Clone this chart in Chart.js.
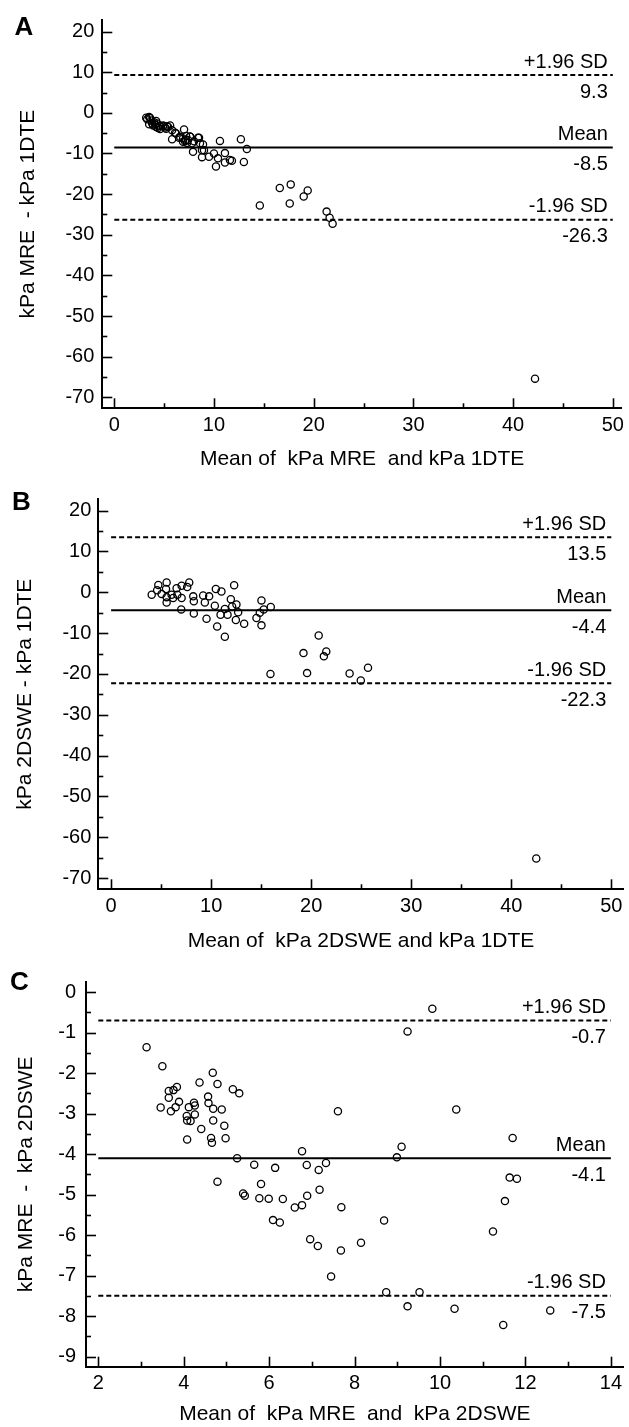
<!DOCTYPE html>
<html lang="en">
<head>
<meta charset="UTF-8">
<meta name="viewport" content="width=device-width, initial-scale=1.0">
<title>Bland-Altman agreement plots</title>
<script src="https://cdn.jsdelivr.net/npm/chart.js"></script>
<style>
    html, body { margin: 0; padding: 0; background: #fff; overflow: hidden; }
    .panel { position: absolute; left: 0; }
</style>
</head>
<body>
    <canvas id="chartA" class="panel" width="629" height="480" style="top:0"></canvas>
    <canvas id="chartB" class="panel" width="629" height="480" style="top:480px"></canvas>
    <canvas id="chartC" class="panel" width="629" height="467" style="top:960px"></canvas>

<script>
// A: MRE vs 1DTE  (x = mean of the two, y = difference)
const pointsA = [
    [3.2,-1.2],[3.5,-1.0],[3.6,-1.3],[3.3,-1.6],[3.7,-1.9],[3.5,-2.8],[3.8,-2.6],[3.9,-3.1],[4.0,-2.3],
    [4.1,-2.9],[4.2,-2.0],[4.3,-2.6],[4.2,-3.5],[4.4,-3.7],[4.5,-3.3],[4.6,-4.0],[4.6,-3.2],[4.9,-3.1],
    [4.9,-3.3],[5.1,-3.6],[5.2,-3.9],[5.3,-3.3],[5.4,-3.5],[5.6,-3.1],[5.8,-4.3],[5.8,-6.5],[6.1,-4.9],
    [6.2,-5.1],[6.5,-6.1],[6.6,-5.9],[6.9,-6.3],[7.0,-4.1],[6.9,-7.1],[7.1,-7.0],[7.2,-5.7],[7.2,-6.7],
    [7.4,-6.7],[7.3,-7.4],[7.6,-5.8],[7.6,-5.9],[7.8,-7.5],[8.0,-7.0],[7.9,-9.6],[8.4,-6.1],[8.5,-6.1],
    [8.6,-7.5],[8.9,-7.8],[8.8,-9.2],[9.0,-9.2],[8.8,-10.9],[9.5,-10.8],[10.0,-10.0],[10.4,-11.2],
    [10.2,-13.2],[11.1,-9.9],[11.1,-12.2],[11.6,-11.6],[11.8,-11.8],[10.6,-6.9],[12.7,-6.5],[13.3,-8.9],
    [13.0,-12.1],[14.6,-22.8],[16.6,-18.5],[17.7,-17.6],[17.6,-22.3],[19.4,-19.1],[19.0,-20.6],
    [21.3,-24.3],[21.6,-25.8],[21.9,-27.3],[42.2,-65.4]
];
const limitsA = [9.3, -8.5, -26.3];          // +1.96 SD, mean, -1.96 SD
const xTicksA = [0, 10, 20, 30, 40, 50];
const yTicksA = [20, 10, 0, -10, -20, -30, -40, -50, -60, -70];

// B: 2DSWE vs 1DTE
const pointsB = [
    [4.06,-0.6],[4.6,0.5],[4.72,1.8],[5.05,-0.4],[5.49,0.8],[5.55,2.4],[5.55,-1.2],[5.55,-2.5],
    [6.05,-0.6],[6.2,-1.4],[6.55,1.0],[6.62,-0.6],[7.05,1.6],[7.05,-1.4],[7.01,-4.2],[7.61,1.3],
    [7.81,2.4],[8.21,-1.0],[8.27,-2.2],[8.27,-5.2],[9.2,-0.8],[9.37,-2.5],[9.8,-1.0],[9.54,-6.5],
    [10.47,0.8],[10.37,-3.3],[11.03,0.2],[10.6,-8.4],[10.94,-5.5],[11.37,-4.1],[11.64,-5.5],
    [11.37,-10.9],[11.97,-1.7],[12.3,1.7],[12.1,-3.5],[12.53,-3.0],[12.47,-6.8],[12.7,-4.9],
    [13.3,-7.7],[14.53,-6.3],[14.86,-5.0],[15.03,-2.0],[15.03,-8.1],[15.26,-4.2],[15.96,-3.6],
    [15.93,-20.0],[19.23,-14.9],[19.59,-19.8],[20.75,-10.6],[21.27,-15.7],[21.51,-14.5],
    [23.84,-19.9],[24.96,-21.6],[25.68,-18.5],[42.5,-65.2]
];
const limitsB = [13.5, -4.4, -22.3];
const xTicksB = [0, 10, 20, 30, 40, 50];
const yTicksB = [20, 10, 0, -10, -20, -30, -40, -50, -60, -70];

// C: MRE vs 2DSWE
const pointsC = [
    [3.13,-1.36],[3.50,-1.83],[3.65,-2.44],[3.76,-2.42],[3.84,-2.34],[3.65,-2.61],[3.46,-2.85],
    [3.70,-2.94],[3.81,-2.84],[3.89,-2.71],[4.12,-2.84],[4.24,-2.73],[4.26,-2.80],[4.07,-3.06],
    [4.08,-3.17],[4.16,-3.18],[4.26,-3.02],[4.08,-3.64],[4.41,-3.38],[4.37,-2.23],[4.68,-1.99],
    [4.79,-2.27],[4.57,-2.58],[4.58,-2.74],[4.69,-2.88],[4.89,-2.90],[4.69,-3.17],[4.95,-3.30],
    [4.64,-3.60],[4.66,-3.72],[4.98,-3.61],[5.15,-2.40],[5.30,-2.50],[4.79,-4.68],[5.25,-4.10],
    [5.65,-4.26],[6.14,-4.34],[5.81,-4.74],[5.39,-4.97],[5.43,-5.03],[5.77,-5.09],[5.99,-5.10],
    [6.32,-5.11],[6.09,-5.63],[6.25,-5.69],[6.60,-5.32],[6.77,-5.26],[6.89,-5.03],[6.77,-3.93],
    [6.88,-4.27],[7.16,-4.39],[7.33,-4.22],[7.18,-4.88],[7.61,-2.94],[7.69,-5.31],[6.96,-6.10],
    [7.14,-6.27],[7.68,-6.38],[7.45,-7.02],[8.15,-6.19],[8.69,-5.64],[8.99,-4.08],[9.10,-3.82],
    [9.24,-0.97],[9.82,-0.41],[10.38,-2.90],[11.24,-5.91],[11.52,-5.16],[11.63,-4.58],[11.80,-4.61],
    [11.70,-3.60],[8.74,-7.41],[9.52,-7.41],[9.24,-7.76],[10.34,-7.82],[11.48,-8.22],[12.58,-7.86]
];
const limitsC = [-0.7, -4.1, -7.5];
const xTicksC = [2, 4, 6, 8, 10, 12, 14];
const yTicksC = [0, -1, -2, -3, -4, -5, -6, -7, -8, -9];

const limitNames = ['+1.96 SD', 'Mean', '-1.96 SD'];
const FONT = '"Liberation Sans", Arial, sans-serif';

// inward tick marks, limit labels and the panel letter
const decor = {
    id: 'decor',
    afterDraw(chart, args, o) {
        const { ctx, scales: { x, y } } = chart;
        ctx.save();
        ctx.strokeStyle = '#000';
        ctx.lineWidth = 1.6;
        const isMajor = (v, m) => Math.abs(v / m - Math.round(v / m)) < 1e-6;

        const xb = y.bottom;
        for (let v = Math.ceil(x.min / o.xStep) * o.xStep; v <= x.max + 1e-9; v += o.xStep) {
            const px = Math.round(x.getPixelForValue(v)) + 0.5;
            const len = isMajor(v, o.xMajor) ? 10 : 5;
            ctx.beginPath();
            ctx.moveTo(px, xb);
            ctx.lineTo(px, xb - len);
            ctx.stroke();
        }
        const yb = x.left;
        for (let v = Math.ceil(y.min / o.yStep) * o.yStep; v <= y.max + 1e-9; v += o.yStep) {
            const py = Math.round(y.getPixelForValue(v)) + 0.5;
            const len = isMajor(v, o.yMajor) ? 10 : 5;
            ctx.beginPath();
            ctx.moveTo(yb, py);
            ctx.lineTo(yb + len, py);
            ctx.stroke();
        }

        ctx.fillStyle = '#000';
        ctx.font = '20px ' + FONT;
        ctx.textAlign = 'right';
        ctx.textBaseline = 'middle';
        const right = x.getPixelForValue(o.span[1]) - 5;
        o.limits.forEach((v, i) => {
            const py = y.getPixelForValue(v);
            ctx.fillText(limitNames[i], right, py - 13);
            ctx.fillText(v.toFixed(1), right, py + 17);
        });

        ctx.font = 'bold 26px ' + FONT;
        ctx.textAlign = 'center';
        ctx.fillText(o.letter, o.letterAt[0], o.letterAt[1]);
        ctx.restore();
    }
};

function blandAltman(id, s) {
    const axisFont = { family: FONT, size: 20 };
    const titleFont = { family: FONT, size: 21, lineHeight: 1 };
    const limitLines = s.limits.map((v, i) => ({
        type: 'line',
        data: [{ x: s.span[0], y: v }, { x: s.span[1], y: v }],
        borderColor: '#000',
        borderWidth: 2,
        borderDash: i === 1 ? [] : [5, 3],
        pointRadius: 0,
        fill: false
    }));
    return new Chart(document.getElementById(id), {
        type: 'scatter',
        data: {
            datasets: [{
                data: s.points.map(([x, y]) => ({ x, y })),
                pointRadius: 3.6,
                borderWidth: 1.3,
                borderColor: '#000',
                backgroundColor: 'rgba(0,0,0,0)'
            }, ...limitLines]
        },
        options: {
            responsive: false,
            animation: false,
            events: [],
            layout: { padding: { left: 0, top: s.top, right: 629 - s.right, bottom: 0 } },
            plugins: {
                legend: { display: false },
                tooltip: { enabled: false },
                decor: {
                    limits: s.limits, span: s.span, letter: s.letter, letterAt: s.letterAt,
                    xStep: s.xStep, xMajor: s.xMajor, yStep: s.yStep, yMajor: s.yMajor
                }
            },
            scales: {
                x: {
                    type: 'linear',
                    min: s.xRange[0],
                    max: s.xRange[1],
                    afterBuildTicks: sc => { sc.ticks = s.xTicks.map(v => ({ value: v })); },
                    afterFit: sc => { sc.height = s.xAxisH; },
                    grid: { drawOnChartArea: false, drawTicks: false },
                    border: { color: '#000', width: 2 },
                    ticks: { color: '#000', font: axisFont, padding: 5, maxRotation: 0, autoSkip: false },
                    title: {
                        display: true, text: s.xTitle, color: '#000', font: titleFont,
                        padding: { top: 0, bottom: s.xTitlePad }
                    }
                },
                y: {
                    type: 'linear',
                    min: s.yRange[0],
                    max: s.yRange[1],
                    afterBuildTicks: sc => { sc.ticks = s.yTicks.map(v => ({ value: v })); },
                    afterFit: sc => { sc.width = s.yAxisW; },
                    grid: { drawOnChartArea: false, drawTicks: false },
                    border: { color: '#000', width: 2 },
                    ticks: { color: '#000', font: axisFont, padding: s.yPad, autoSkip: false },
                    title: {
                        display: true, text: s.yTitle, color: '#000', font: titleFont,
                        padding: { top: s.yTitlePad, bottom: 0 }
                    }
                }
            }
        },
        plugins: [decor]
    });
}

blandAltman('chartA', {
    points: pointsA, limits: limitsA, xTicks: xTicksA, yTicks: yTicksA,
    xRange: [-1.2, 50.92], yRange: [-72.69, 22.84], span: [0, 50],
    xStep: 5, xMajor: 10, yStep: 5, yMajor: 10,
    top: 15, right: 624, yAxisW: 102.3, xAxisH: 71.7, yPad: 8,
    xTitle: 'Mean of  kPa MRE  and kPa 1DTE', xTitlePad: 10.3,
    yTitle: 'kPa MRE  - kPa 1DTE', yTitlePad: 18,
    letter: 'A', letterAt: [24, 28]
});

blandAltman('chartB', {
    points: pointsB, limits: limitsB, xTicks: xTicksB, yTicks: yTicksB,
    xRange: [-1.28, 51.24], yRange: [-72.75, 22.84], span: [0, 50],
    xStep: 5, xMajor: 10, yStep: 5, yMajor: 10,
    top: 15, right: 624, yAxisW: 98.3, xAxisH: 70.7, yPad: 7,
    xTitle: 'Mean of  kPa 2DSWE and kPa 1DTE', xTitlePad: 7.8,
    yTitle: 'kPa 2DSWE - kPa 1DTE', yTitlePad: 15,
    letter: 'B', letterAt: [21.5, 22.5]
});

blandAltman('chartC', {
    points: pointsC, limits: limitsC, xTicks: xTicksC, yTicks: yTicksC,
    xRange: [1.712, 14.3], yRange: [-9.25, 0.25], span: [2, 14],
    xStep: 1, xMajor: 2, yStep: 0.5, yMajor: 1,
    top: 14, right: 624, yAxisW: 86, xAxisH: 60.3, yPad: 10,
    xTitle: 'Mean of  kPa MRE  and  kPa 2DSWE', xTitlePad: 2.5,
    yTitle: 'kPa MRE  -  kPa 2DSWE', yTitlePad: 16,
    letter: 'C', letterAt: [19.5, 22.5]
});
</script>
</body>
</html>
